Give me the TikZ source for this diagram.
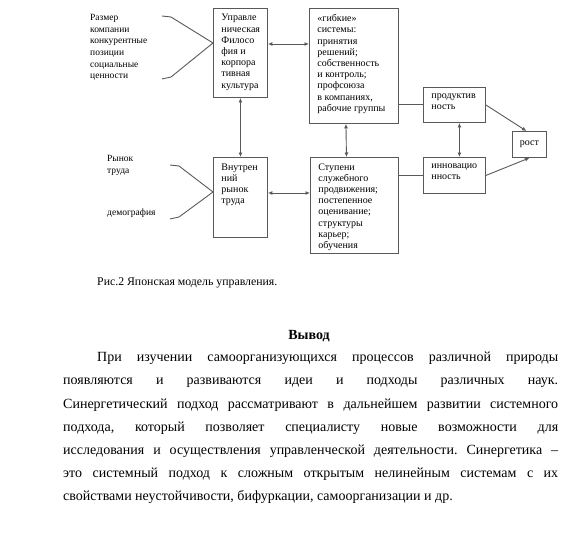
\documentclass[tikz,border=0pt]{standalone}
\usepackage{fontspec}
\setmainfont{Liberation Serif}
\usetikzlibrary{arrows.meta}
\newcommand{\boxtxt}[3]{\parbox[c][#2pt][t]{#1pt}{\raggedright\setlength{\leftskip}{8pt}\fontsize{10}{11.2}\selectfont\vspace*{6pt}#3}}
\tikzset{
	blk/.style={draw=black!65,line width=0.9pt,rectangle,anchor=north west,inner sep=0pt},
	lnk/.style={draw=black!65,line width=0.9pt},
	both/.style={lnk,{Latex[length=4.5pt,width=4pt]}-{Latex[length=4.5pt,width=4pt]}},
	one/.style={lnk,-{Latex[length=4.5pt,width=4pt]}},
	lbl/.style={anchor=north west,inner sep=0pt,align=left,font=\fontsize{9.5}{11.7}\selectfont}
}
\begin{document}
\begin{tikzpicture}[x=1pt,y=-1pt]
	\useasboundingbox (0,0) rectangle (580,532);
	% boxes
	\node[blk] (ctrl) at (213,8) {\boxtxt{54}{89}{Управле\\ническая\\Филосо\\фия и\\корпора\\тивная\\культура}};
	\node[blk] (flex) at (309,8) {\boxtxt{89}{115}{«гибкие»\\системы:\\принятия\\решений;\\собственность\\и контроль;\\профсоюза\\в компаниях,\\рабочие группы}};
	\node[blk] (prod) at (423,87) {\boxtxt{62}{35}{продуктив\\ность}};
	\node[blk] (innov) at (423,157) {\boxtxt{62}{36}{инновацио\\нность}};
	\node[blk,minimum width=34pt,minimum height=26pt,anchor=north west,font=\fontsize{10}{11.5}\selectfont] (growth) at (512,131) {рост};
	\node[blk] (career) at (310,157) {\boxtxt{88}{96}{Ступени\\служебного\\продвижения;\\постепенное\\оценивание;\\структуры\\карьер;\\обучения}};
	\node[blk] (inner) at (213,157) {\boxtxt{54}{80}{Внутрен\\ний\\рынок\\труда}};
	% left labels
	\node[lbl] (size) at (90,14) {Размер\\компании\\конкурентные\\позиции\\социальные\\ценности};
	\node[lbl] (market) at (107,155) {Рынок\\труда};
	\node[lbl] (demo) at (107,209) {демография};
	\coordinate (s1) at (162,16);
	\coordinate (s2) at (162,79);
	\coordinate (m1) at (170,165);
	\coordinate (m2) at (170,219);
	\draw[lnk] (s1) -- ++(9,1) -- ([yshift=-35pt]ctrl.north west);
	\draw[lnk] (s2) -- ++(9,-2) -- ([yshift=-35pt]ctrl.north west);
	\draw[lnk] (m1) -- ++(9,1) -- ([yshift=-35pt]inner.north west);
	\draw[lnk] (m2) -- ++(9,-2) -- ([yshift=-35pt]inner.north west);
	% connectors
	\draw[both] ([yshift=-36pt]ctrl.north east) -- ([yshift=-36pt]flex.north west);
	\draw[both] (ctrl.south) -- (inner.north);
	\draw[both] ([yshift=-36pt]inner.north east) -- ([yshift=-36pt]career.north west);
	\draw[both] ([xshift=-8pt]flex.south) -- ([xshift=-8pt]career.north);
	\draw[lnk] (flex.east |- prod.west) -- (prod.west);
	\draw[lnk] (career.east |- innov.west) -- (innov.west);
	\draw[both] ([xshift=5pt]prod.south) -- ([xshift=5pt]innov.north);
	\draw[one] (prod.east) -- ([xshift=-3pt]growth.north);
	\draw[one] (innov.east) -- (growth.south);
	% caption and text
	\node[anchor=west,inner sep=0pt,font=\fontsize{11.8}{13}\selectfont] (cap) at (97,283) {Рис.2 Японская модель управления.};
	\node[anchor=center,inner sep=0pt,font=\fontsize{14}{16}\selectfont\bfseries] (head) at (309,336) {Вывод};
	\node[anchor=north west,inner sep=0pt,text width=495pt,align=justify,font=\fontsize{14}{23.17}\selectfont] (body) at (63,352) {\frenchspacing\hyphenpenalty=10000\tolerance=9999\hspace*{34pt}При изучении самоорганизующихся процессов различной природы\linebreak
	появляются и развиваются идеи и подходы различных наук.\linebreak
	Синергетический подход рассматривают в дальнейшем развитии системного\linebreak
	подхода, который позволяет специалисту новые возможности для\linebreak
	исследования и осуществления управленческой деятельности. Синергетика~–\linebreak
	это системный подход к сложным открытым нелинейным системам с их\linebreak
	свойствами неустойчивости, бифуркации, самоорганизации и др.};
\end{tikzpicture}
\end{document}
